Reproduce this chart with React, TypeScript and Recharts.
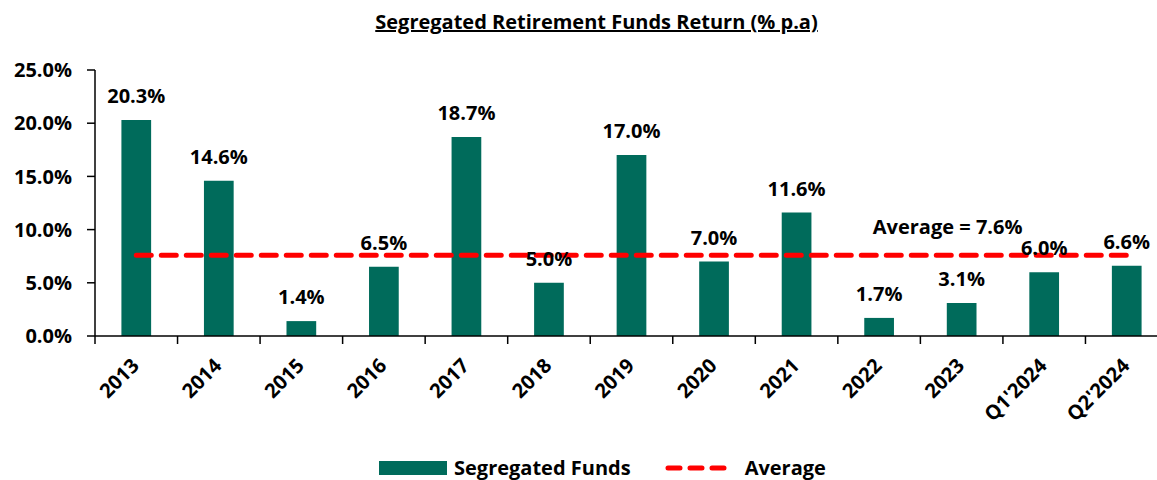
import React from 'react';
import { ComposedChart, Bar, Line, XAxis, YAxis, LabelList } from 'recharts';

const categories = ['2013', '2014', '2015', '2016', '2017', '2018', '2019', '2020', '2021', '2022', '2023', "Q1'2024", "Q2'2024"];
const segregatedFunds = [20.3, 14.6, 1.4, 6.5, 18.7, 5.0, 17.0, 7.0, 11.6, 1.7, 3.1, 6.0, 6.6];
const averageValue = 7.6;
const yTicks = [0, 5, 10, 15, 20, 25];

const data = categories.map((c, i) => ({ name: c, seg: segregatedFunds[i], avg: averageValue }));

const FONT = '"Open Sans", Lato, sans-serif';
const GREEN = '#006B5B';
const RED = '#FF0000';
const FS = 20;

const CHART_W = 1175;
const MARGIN = { top: 70, right: 7, bottom: 0, left: 0 };
const Y_W = 95;
const HALF_BAND = (CHART_W - MARGIN.right - MARGIN.left - Y_W) / categories.length / 2;

const XTick = (props: any) => {
  const { x, y, payload, index } = props;
  const px = x + 4;
  const py = y + 31;
  return (
    <g>
      <line x1={x + HALF_BAND} x2={x + HALF_BAND} y1={y} y2={y + 8} stroke="#000" strokeWidth={1.5} />
      {index === 0 && <line x1={x - HALF_BAND} x2={x - HALF_BAND} y1={y} y2={y + 8} stroke="#000" strokeWidth={1.5} />}
      <text
        x={px}
        y={py}
        transform={`rotate(-45, ${px}, ${py})`}
        textAnchor="end"
        fontFamily={FONT}
        fontWeight={700}
        fontSize={FS}
        fill="#000"
      >
        {payload.value}
      </text>
    </g>
  );
};

const AvgLabel = (props: any) => {
  const { x, y, index } = props;
  if (index !== 10) return null;
  return (
    <text x={x - 14} y={y - 21} textAnchor="middle" fontFamily={FONT} fontWeight={700} fontSize={FS} fill="#000">
      {`Average = ${averageValue.toFixed(1)}%`}
    </text>
  );
};

export default function App() {
  return (
    <div style={{ position: 'absolute', left: 0, top: 0, width: 1157, height: 480, overflow: 'hidden', background: '#fff', fontFamily: FONT }}>
      <div
        style={{
          position: 'absolute',
          top: 8,
          left: 0,
          width: 1193,
          textAlign: 'center',
          fontWeight: 700,
          fontSize: 20,
          textDecoration: 'underline',
          color: '#000',
        }}
      >
        Segregated Retirement Funds Return (% p.a)
      </div>
      <div style={{ position: 'absolute', left: 0, top: 0 }}>
        <ComposedChart width={CHART_W} height={436} data={data} margin={MARGIN} barCategoryGap="68%">
          <XAxis
            dataKey="name"
            interval={0}
            tick={<XTick />}
            tickLine={false}
            tickSize={0}
            tickMargin={0}
            height={100}
            axisLine={{ stroke: '#000', strokeWidth: 1.5 }}
          />
          <YAxis
            width={Y_W}
            domain={[0, 25]}
            ticks={yTicks}
            interval={0}
            tickFormatter={(v: number) => `${v.toFixed(1)}%`}
            tick={{ fontFamily: FONT, fontWeight: 700, fontSize: FS, fill: '#000' }}
            tickSize={8}
            tickMargin={15}
            tickLine={{ stroke: '#000', strokeWidth: 1.5 }}
            axisLine={{ stroke: '#000', strokeWidth: 1.5 }}
          />
          <Bar dataKey="seg" fill={GREEN} isAnimationActive={false}>
            <LabelList
              dataKey="seg"
              position="top"
              offset={17}
              formatter={(v: number) => `${v.toFixed(1)}%`}
              style={{ fontFamily: FONT, fontWeight: 700, fontSize: FS, fill: '#000' }}
            />
          </Bar>
          <Line
            dataKey="avg"
            stroke={RED}
            strokeWidth={5}
            strokeDasharray="15 10"
            strokeLinecap="round"
            dot={false}
            activeDot={false}
            isAnimationActive={false}
          >
            <LabelList dataKey="avg" content={<AvgLabel />} />
          </Line>
        </ComposedChart>
      </div>
      <div style={{ position: 'absolute', top: 457, left: 379, display: 'flex', alignItems: 'center', fontWeight: 700, fontSize: 20, lineHeight: '21px', color: '#000' }}>
        <svg width={68} height={14} style={{ marginRight: 7 }}>
          <rect x={0} y={0} width={68} height={14} fill={GREEN} />
        </svg>
        <span>Segregated Funds</span>
        <svg width={68} height={14} style={{ marginLeft: 34, marginRight: 12 }}>
          <line x1={3} x2={65} y1={7} y2={7} stroke={RED} strokeWidth={5} strokeDasharray="12 10" strokeLinecap="round" />
        </svg>
        <span>Average</span>
      </div>
    </div>
  );
}
